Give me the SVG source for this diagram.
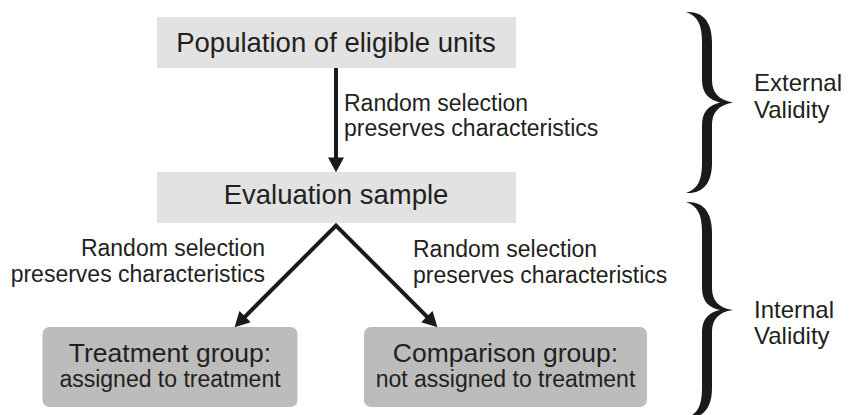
<svg xmlns="http://www.w3.org/2000/svg" width="850" height="415" viewBox="0 0 850 415">
<style>
text { font-family: "Liberation Sans", Arial, sans-serif; fill: #231f20; }
.big { font-size: 27.5px; }
.lbl { font-size: 23px; }
.grp { font-size: 26.5px; }
.sub { font-size: 23px; }
.val { font-size: 24px; }
.light { fill: #e2e2e2; }
.dark { fill: #bcbcbc; }
.conn { fill: none; stroke: #1a1a1a; stroke-width: 4; stroke-linejoin: miter; stroke-miterlimit: 10; }
.brace { fill: #1a1a1a; }
</style>
<defs>
<marker id="ah" markerUnits="userSpaceOnUse" markerWidth="16" markerHeight="16" refX="4" refY="7.5" orient="auto-start-reverse" viewBox="0 0 14 15">
<path d="M0,0 L14,7.5 L0,15 z" fill="#1a1a1a"/>
</marker>
</defs>

<g id="population">
<rect class="light" x="157" y="17" width="359" height="51"/>
<text class="big" x="336" y="52" text-anchor="middle">Population of eligible units</text>
</g>

<g id="evaluation">
<rect class="light" x="157" y="172" width="359" height="51"/>
<text class="big" x="336" y="204" text-anchor="middle">Evaluation sample</text>
</g>

<g id="treatment">
<rect class="dark" x="42.5" y="327" width="255" height="80" rx="7" ry="7"/>
<text class="grp" x="170" y="362" text-anchor="middle">Treatment group:</text>
<text class="sub" x="170" y="387" text-anchor="middle">assigned to treatment</text>
</g>

<g id="comparison">
<rect class="dark" x="364" y="327" width="283" height="80" rx="7" ry="7"/>
<text class="grp" x="505.5" y="362" text-anchor="middle">Comparison group:</text>
<text class="sub" x="505.5" y="387" text-anchor="middle">not assigned to treatment</text>
</g>

<g id="connectors">
<path class="conn" d="M336,68 L336,161.7" marker-end="url(#ah)"/>
<path class="conn" d="M242.1,319.6 L336,225.5 L429.9,319.6" marker-start="url(#ah)" marker-end="url(#ah)"/>
</g>

<g id="labels">
<text class="lbl" x="344" y="111">Random selection</text>
<text class="lbl" x="344" y="136">preserves characteristics</text>
<text class="lbl" x="265" y="256" text-anchor="end">Random selection</text>
<text class="lbl" x="265" y="282" text-anchor="end">preserves characteristics</text>
<text class="lbl" x="413" y="257">Random selection</text>
<text class="lbl" x="413" y="283">preserves characteristics</text>
</g>

<g id="external-validity">
<path class="brace" d="M686,12 C703,11 712,22 712,42 L712,80 C712,92 718,100 733,102.5 C718,105 712,113 712,125 L712,163 C712,183 703,194 686,193 C698,189 702,180 702,163 L702,125 C702,112 709,105 720,102.5 C709,100 702,93 702,80 L702,42 C702,25 698,16 686,12 Z"/>
<text class="val" x="754" y="91">External</text>
<text class="val" x="754" y="118">Validity</text>
</g>

<g id="internal-validity">
<path class="brace" d="M686,202 C703,201 712,212 712,232 L712,288 C712,300 718,308 733,310 C718,312 712,320 712,332 L712,388 C712,408 703,419 686,418 C698,414 702,405 702,388 L702,332 C702,319 709,312 720,310 C709,308 702,301 702,288 L702,232 C702,215 698,206 686,202 Z"/>
<text class="val" x="754" y="318">Internal</text>
<text class="val" x="754" y="344">Validity</text>
</g>
</svg>
